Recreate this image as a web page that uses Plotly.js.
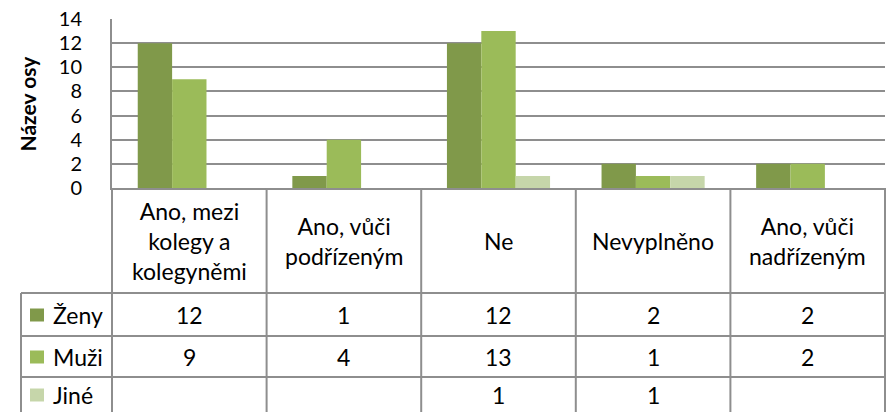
<!DOCTYPE html>
<html>
<head>
<meta charset="utf-8">
<script src="https://cdn.plot.ly/plotly-3.0.1.min.js"></script>
<style>html,body{margin:0;padding:0;background:#fff;}#chart{width:888px;height:412px;}</style>
</head>
<body>
<div id="chart"></div>
<script>
// ---- data ----
var categories = ["Ano, mezi kolegy a kolegyněmi", "Ano, vůči podřízeným", "Ne", "Nevyplněno", "Ano, vůči nadřízeným"];
var categoryLabels = ["Ano, mezi<br>kolegy a<br>kolegyněmi", "Ano, vůči<br>podřízeným", "Ne", "Nevyplněno", "Ano, vůči<br>nadřízeným"];
var seriesNames = ["Ženy", "Muži", "Jiné"];
var zeny = [12, 1, 12, 2, 2];
var muzi = [9, 4, 13, 1, 2];
var jine = [null, null, 1, 1, null];
var yTicks = [0, 2, 4, 6, 8, 10, 12, 14];
var yTitle = "Název osy";

// ---- style ----
var colors = ["#80994a", "#9bbb59", "#c6d6aa"];
var FONT = "Lato, 'Open Sans', sans-serif";
var TABLE_SIZE = 23;
var lineColor = "#8e8e8e";
var plotW = 773;           // plot area width in px
var legendColW = 91;        // width of legend column left of plot
var rowBounds = [-105, -148, -189, -226]; // px offsets below x-axis (header bottom, row lines, bottom)
var rowCenters = [-127, -169, -207];

var seriesVals = [zeny, muzi, jine];
var traces = seriesVals.map(function (vals, i) {
  return {
    type: "bar",
    name: seriesNames[i],
    x: categories,
    y: vals,
    marker: { color: colors[i] },
    hoverinfo: "x+y+name"
  };
});

var shapes = [];
var annotations = [];

function hline(yOff, x0px, x1px) {
  shapes.push({
    type: "line", xref: "paper", yref: "paper",
    xsizemode: "pixel", xanchor: 0, ysizemode: "pixel", yanchor: 0,
    x0: x0px, x1: x1px, y0: yOff, y1: yOff,
    line: { color: lineColor, width: 2 }
  });
}
function vline(xPaper, y0off, y1off) {
  shapes.push({
    type: "line", xref: "paper", yref: "paper",
    ysizemode: "pixel", yanchor: 0,
    x0: xPaper, x1: xPaper, y0: y0off, y1: y1off,
    line: { color: lineColor, width: 2 }
  });
}

// header + row lines
hline(rowBounds[0], -legendColW, plotW);
hline(rowBounds[1], -legendColW, plotW);
hline(rowBounds[2], -legendColW, plotW);
hline(rowBounds[3], -legendColW, plotW);
for (var k = 0; k <= categories.length; k++) {
  vline(k / categories.length, 0, rowBounds[3]);
}
// legend column left border
shapes.push({
  type: "line", xref: "paper", yref: "paper",
  xsizemode: "pixel", xanchor: 0, ysizemode: "pixel", yanchor: 0,
  x0: -legendColW, x1: -legendColW, y0: rowBounds[0], y1: rowBounds[3],
  line: { color: lineColor, width: 2 }
});

// header labels
categories.forEach(function (c, i) {
  annotations.push({
    xref: "x", yref: "paper", x: c, y: 0, yshift: -53,
    text: categoryLabels[i], showarrow: false,
    xanchor: "center", yanchor: "middle", align: "center",
    font: { family: FONT, size: TABLE_SIZE, color: "#000" }
  });
});

// rows
seriesNames.forEach(function (name, r) {
  // legend key
  shapes.push({
    type: "rect", xref: "paper", yref: "paper",
    xsizemode: "pixel", xanchor: 0, ysizemode: "pixel", yanchor: 0,
    x0: -82, x1: -68, y0: rowCenters[r] - 6.5, y1: rowCenters[r] + 6.5,
    fillcolor: colors[r], line: { width: 0 }
  });
  annotations.push({
    xref: "paper", yref: "paper", x: 0, y: 0, xshift: -61, yshift: rowCenters[r],
    text: name, showarrow: false, xanchor: "left", yanchor: "middle",
    font: { family: FONT, size: TABLE_SIZE, color: "#000" }
  });
  seriesVals[r].forEach(function (v, i) {
    if (v === null) return;
    annotations.push({
      xref: "x", yref: "paper", x: categories[i], y: 0, yshift: rowCenters[r],
      text: String(v), showarrow: false, xanchor: "center", yanchor: "middle",
      font: { family: FONT, size: TABLE_SIZE, color: "#000" }
    });
  });
});

// y axis title
annotations.push({
  xref: "paper", yref: "paper", x: 0, y: 0.5, xshift: -85,
  text: "<b>" + yTitle + "</b>", textangle: -90, showarrow: false,
  xanchor: "center", yanchor: "middle",
  font: { family: FONT, size: 21, color: "#000" }
});

var layout = {
  width: 888, height: 412,
  margin: { l: 112, r: 3, t: 19, b: 224, pad: 0 },
  paper_bgcolor: "#fff", plot_bgcolor: "#fff",
  barmode: "group", bargap: 0.333, bargroupgap: 0,
  showlegend: false,
  xaxis: {
    type: "category", showticklabels: false, ticks: "",
    showline: true, linecolor: lineColor, linewidth: 2,
    showgrid: false, zeroline: false, range: [-0.5, 4.5], fixedrange: true
  },
  yaxis: {
    range: [0, 14], tickvals: yTicks, ticktext: yTicks.map(String),
    showgrid: true, gridcolor: lineColor, gridwidth: 2,
    showline: true, linecolor: lineColor, linewidth: 2,
    zeroline: false, ticks: "", ticklabelstandoff: 24,
    tickfont: { family: FONT, size: 20, color: "#000" }, fixedrange: true
  },
  shapes: shapes,
  annotations: annotations
};

Plotly.newPlot("chart", traces, layout, { displayModeBar: false, staticPlot: true });
</script>
</body>
</html>
